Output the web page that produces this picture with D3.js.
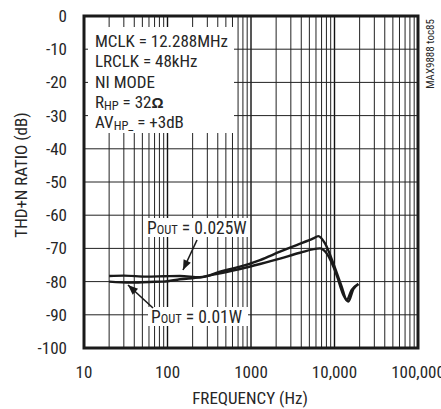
<!DOCTYPE html>
<html><head><meta charset="utf-8">
<script src="https://cdn.jsdelivr.net/npm/d3@7"></script>
<style>
html,body{margin:0;padding:0;background:#fff;}
svg{display:block;}
text{font-family:"Liberation Sans Narrow","Arial Narrow","Roboto Condensed",sans-serif;fill:#262626;}
</style></head>
<body>
<script>
// ---- data ----
const yTicks = [0,-10,-20,-30,-40,-50,-60,-70,-80,-90,-100];
const xTickVals = [10,100,1000,10000,100000];
const xTickLabels = ["10","100","1000","10,000","100,000"];
const freq025 = [20,30,56,90,141,245,425,738,1282,2224,3520,5575,6400,7700,9680,12190,14000,16070,19300];
const thd025  = [-78.3,-78.2,-78.5,-78.4,-78.3,-78.7,-77.0,-75.5,-73.5,-71.0,-69.0,-67.0,-66.3,-68.5,-74.5,-81.5,-85.5,-82.5,-80.7];
const freq001 = [20,36,60,89,141,245,425,738,1282,2224,3860,6700,8050,10600,12770,14650,16800,19300];
const thd001  = [-80.0,-80.3,-80.1,-80.0,-79.3,-78.7,-77.5,-76.2,-74.7,-73.1,-71.3,-70.0,-71.5,-78.0,-84.0,-86.0,-82.3,-80.7];
const legendLines = ["MCLK = 12.288MHz","LRCLK = 48kHz","NI MODE"];

const W=441,H=409;
const FS=17;
const svg=d3.select("body").append("svg").attr("width",W).attr("height",H);
const x=d3.scaleLog().domain([10,100000]).range([84,418]);
const y=d3.scaleLinear().domain([-100,0]).range([348,16]);

// grid
const g=svg.append("g");
const minors=[];
[10,100,1000,10000].forEach(d=>{for(let k=2;k<=9;k++)minors.push(d*k);});
g.selectAll(".vmin").data(minors).join("line")
 .attr("x1",d=>x(d)).attr("x2",d=>x(d)).attr("y1",y(0)).attr("y2",y(-100))
 .attr("stroke","#222").attr("stroke-width",1);
g.selectAll(".vmaj").data([100,1000,10000]).join("line")
 .attr("x1",d=>x(d)).attr("x2",d=>x(d)).attr("y1",y(0)).attr("y2",y(-100))
 .attr("stroke","#111").attr("stroke-width",1.4);
g.selectAll(".h").data(yTicks.slice(1,-1)).join("line")
 .attr("x1",x(10)).attr("x2",x(100000)).attr("y1",d=>y(d)).attr("y2",d=>y(d))
 .attr("stroke","#222").attr("stroke-width",1);

// legend box (white)
svg.append("rect").attr("x",88).attr("y",27).attr("width",146).attr("height",106).attr("fill","#fff");
const lt=svg.append("g").attr("font-size",FS);
legendLines.forEach((s,i)=>lt.append("text").attr("x",95).attr("y",47+i*20.3).text(s));
const r=lt.append("text").attr("x",95).attr("y",108);
r.append("tspan").text("R");
r.append("tspan").attr("font-size",12.5).attr("dy",2).text("HP");
r.append("tspan").attr("dy",-2).text(" = 32");
r.append("tspan").attr("font-weight","bold").attr("font-family","Liberation Sans").attr("font-size",15).text("Ω");
const a=lt.append("text").attr("x",95).attr("y",128);
a.append("tspan").text("AV");
a.append("tspan").attr("font-size",12.5).attr("dy",2).text("HP_");
a.append("tspan").attr("dy",-2).text(" = +3dB");

// curves
const line=d3.line().x(d=>x(d[0])).y(d=>y(d[1])).curve(d3.curveMonotoneX);
[[freq025,thd025],[freq001,thd001]].forEach(([f,v])=>{
  svg.append("path").datum(f.map((d,i)=>[d,v[i]])).attr("d",line)
   .attr("fill","none").attr("stroke","#1a1a1a").attr("stroke-width",2.4).attr("stroke-linejoin","round");
});

// series labels
function plabel(xx,yy,val,bx,by,bw,bh){
  svg.append("rect").attr("x",bx).attr("y",by).attr("width",bw).attr("height",bh).attr("fill","#fff");
  const t=svg.append("text").attr("x",xx).attr("y",yy).attr("font-size",17.5);
  t.append("tspan").text("P");
  t.append("tspan").attr("font-size",12.5).text("OUT");
  t.append("tspan").text(" = "+val);
}
plabel(147,234,"0.025W",143,218,106,19);
plabel(151,323,"0.01W",148,307,100,19);

// arrows
function arrow(x1,y1,x2,y2){
  svg.append("line").attr("x1",x1).attr("y1",y1).attr("x2",x2).attr("y2",y2).attr("stroke","#1a1a1a").attr("stroke-width",1.6);
  const ang=Math.atan2(y2-y1,x2-x1),L=10,Wd=4;
  const bx=x2-L*Math.cos(ang),by=y2-L*Math.sin(ang);
  const px=-Math.sin(ang)*Wd,py=Math.cos(ang)*Wd;
  svg.append("path").attr("d",`M${x2},${y2}L${bx+px},${by+py}L${bx-px},${by-py}Z`).attr("fill","#1a1a1a");
}
arrow(197,240,183,270);
arrow(153,308,128,285);

// frame
svg.append("rect").attr("x",x(10)).attr("y",y(0)).attr("width",x(100000)-x(10)).attr("height",y(-100)-y(0))
 .attr("fill","none").attr("stroke","#1a1a1a").attr("stroke-width",3);

// axis labels
svg.selectAll(".yl").data(yTicks).join("text").attr("x",67).attr("y",d=>y(d)+6)
 .attr("text-anchor","end").attr("font-size",FS).text(d=>d);
svg.selectAll(".xl").data(xTickVals).join("text").attr("x",d=>x(d)).attr("y",378)
 .attr("text-anchor","middle").attr("font-size",FS).text((d,i)=>xTickLabels[i]);
svg.append("text").attr("x",250).attr("y",404).attr("text-anchor","middle").attr("font-size",FS).text("FREQUENCY (Hz)");
svg.append("text").attr("transform","translate(27,175) rotate(-90)").attr("text-anchor","middle").attr("font-size",FS).text("THD+N RATIO (dB)");
svg.append("text").attr("transform","translate(434,54) rotate(-90)").attr("text-anchor","middle").attr("font-size",11).text("MAX9888 toc85");
</script>
</body></html>
